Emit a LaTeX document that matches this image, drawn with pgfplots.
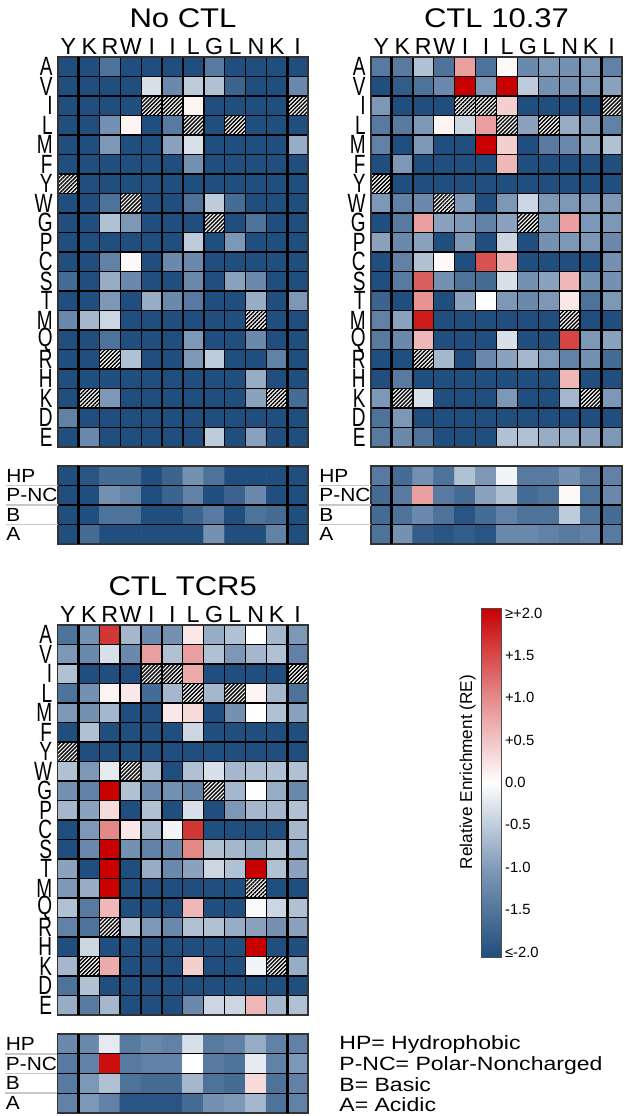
\documentclass[border=0pt]{standalone}
\usepackage{graphicx}
\usepackage{pgfplots}
\usepackage{pgfplotstable}
\pgfplotsset{compat=1.18}
\usepackage{fontspec}
\setmainfont{Liberation Sans}
\usetikzlibrary{patterns.meta}
\pgfplotsset{colormap={re}{rgb255(0cm)=(32,78,126); rgb255(1cm)=(125,152,183); rgb255(2cm)=(255,255,255); rgb255(3cm)=(228,135,135); rgb255(4cm)=(200,0,0)}}
\newcommand\RL[1]{\scalebox{0.95}[1.32]{#1}}
\newcommand\hcell[4]{\addplot[draw=none, pattern={Lines[angle=45,distance=1.4pt,line width=0.7pt]}] coordinates {(#1,#3) (#2,#3) (#2,#4) (#1,#4) (#1,#3)};}
\newcommand\hatches{%
\hcell{-0.5}{0.5}{5.5}{6.5}
\hcell{0.5}{1.5}{16.5}{17.5}
\hcell{1.5}{2.5}{14.5}{15.5}
\hcell{2.5}{3.5}{6.5}{7.5}
\hcell{3.5}{4.5}{1.5}{2.5}
\hcell{4.5}{5.5}{1.5}{2.5}
\hcell{5.5}{6.5}{2.5}{3.5}
\hcell{6.5}{7.5}{7.5}{8.5}
\hcell{7.5}{8.5}{2.5}{3.5}
\hcell{8.5}{9.5}{12.5}{13.5}
\hcell{9.5}{10.5}{16.5}{17.5}
\hcell{10.5}{11.5}{1.5}{2.5}}
\pgfplotsset{
 hmbase/.style={scale only axis, anchor=north west, enlargelimits=false, xmin=-0.5, xmax=11.5, y dir=reverse, axis on top,
   colormap name=re, point meta min=-2, point meta max=2, major tick length=0pt, minor tick length=0pt,
   axis line style={black!80, line width=0.8pt},
   minor xtick={0.5,1.5,...,10.5}, xminorgrids=true, yminorgrids=true, minor grid style={black, line width=0.7pt},
   extra x ticks={0.5,10.5}, extra x tick labels={}, extra x tick style={grid=major, major grid style={black, line width=1.5pt}}},
 big/.style={hmbase, width=125pt, height=195pt, ymin=-0.5, ymax=19.5,
   minor ytick={0.5,1.5,...,18.5},
   xtick={0,...,11}, xticklabels={Y,K,R,W,I,I,L,G,L,N,K,I}, xticklabel pos=upper,
   xticklabel style={font=\fontsize{11.6}{11.6}\selectfont, anchor=base, inner sep=0pt, yshift=1.5pt},
   ytick={0,...,19}, yticklabels={\RL{A},\RL{V},\RL{I},\RL{L},\RL{M},\RL{F},\RL{Y},\RL{W},\RL{G},\RL{P},\RL{C},\RL{S},\RL{T},\RL{M},\RL{Q},\RL{R},\RL{H},\RL{K},\RL{D},\RL{E}},
   yticklabel style={font=\fontsize{10}{10}\selectfont, anchor=east, inner sep=0pt, xshift=-2.5pt},
   title style={font=\fontsize{13.5}{13.5}\selectfont, at={(0.5,1)}, anchor=base, yshift=8.8pt}},
 small/.style={hmbase, width=125pt, height=39pt, ymin=-0.5, ymax=3.5, xtick=\empty,
   minor ytick={0.5,1.5,2.5}, ytick pos=left,
   ytick={0,1,2,3}, yticklabels={\scalebox{1.1}[1]{HP},\scalebox{1.1}[1]{P-NC},\scalebox{1.1}[1]{B},\scalebox{1.1}[1]{A}},
   yticklabel style={font=\fontsize{9.5}{9.5}\selectfont, anchor=west, inner sep=0pt, xshift=-26pt},
   extra y ticks={0.5,1.5,2.5}, extra y tick labels={},
   extra y tick style={major tick length=26pt, tick align=outside, tick style={black!22, line width=0.8pt}}},
 hm/.style={matrix plot*, mesh/cols=12, point meta=explicit}
}

% ---------------- No CTL ----------------
\pgfplotstableread[row sep=\\]{v\\
-2\\ -2\\ -1.5\\ -2\\ -2\\ -2\\ -2\\ -1.4\\ -2\\ -2\\ -2\\ -2\\
-2\\ -2\\ -2\\ -2\\ -0.3\\ -1.2\\ -0.5\\ -0.6\\ -1.7\\ -2\\ -2\\ -1.2\\
-2\\ -2\\ -2\\ -2\\ 0\\ 0\\ 0.1\\ -2\\ -2\\ -2\\ -2\\ 0\\
-2\\ -2\\ -1.1\\ 0.1\\ -2\\ -1.4\\ 0\\ -2\\ 0\\ -2\\ -2\\ -2\\
-2\\ -2\\ -1.0\\ -2\\ -2\\ -0.9\\ -0.3\\ -2\\ -2\\ -2\\ -2\\ -0.8\\
-2\\ -2\\ -2\\ -2\\ -2\\ -2\\ -1.1\\ -2\\ -2\\ -2\\ -2\\ -2\\
0\\ -2\\ -2\\ -2\\ -2\\ -2\\ -2\\ -2\\ -2\\ -2\\ -2\\ -2\\
-2\\ -2\\ -1.5\\ 0\\ -2\\ -2\\ -1.5\\ -0.5\\ -1.6\\ -2\\ -2\\ -2\\
-2\\ -2\\ -0.6\\ -1.0\\ -2\\ -2\\ -2\\ 0\\ -2\\ -1.5\\ -2\\ -2\\
-2\\ -2\\ -2\\ -2\\ -2\\ -2\\ -0.5\\ -2\\ -1.0\\ -2\\ -2\\ -2\\
-2\\ -2\\ -1.3\\ 0.05\\ -2\\ -1.2\\ -1.2\\ -2\\ -2\\ -2\\ -2\\ -2\\
-1.6\\ -2\\ -0.8\\ -1.2\\ -2\\ -2\\ -1.2\\ -2\\ -0.9\\ -1.2\\ -2\\ -2\\
-2\\ -2\\ -1.0\\ -2\\ -0.8\\ -1.2\\ -1.4\\ -2\\ -2\\ -0.8\\ -2\\ -1.0\\
-1.2\\ -0.7\\ -0.4\\ -2\\ -2\\ -2\\ -2\\ -2\\ -2\\ 0\\ -2\\ -2\\
-2\\ -2\\ -1.5\\ -2\\ -2\\ -2\\ -1.0\\ -2\\ -2\\ -1.2\\ -2\\ -2\\
-2\\ -2\\ 0\\ -0.6\\ -2\\ -2\\ -1.0\\ -0.5\\ -2\\ -2\\ -1.3\\ -2\\
-2\\ -2\\ -2\\ -2\\ -2\\ -2\\ -2\\ -2\\ -2\\ -0.8\\ -2\\ -2\\
-2\\ 0\\ -1.0\\ -2\\ -2\\ -2\\ -2\\ -2\\ -2\\ -0.9\\ 0\\ -1.6\\
-1.3\\ -2\\ -2\\ -2\\ -2\\ -2\\ -2\\ -2\\ -2\\ -2\\ -2\\ -2\\
-2\\ -1.2\\ -2\\ -2\\ -2\\ -2\\ -2\\ -0.5\\ -2\\ -0.9\\ -2\\ -2\\
}\tabNoBig
\pgfplotstableread[row sep=\\]{v\\
-2\\ -1.9\\ -1.6\\ -1.6\\ -2\\ -1.7\\ -1.1\\ -1.5\\ -2\\ -2\\ -2\\ -2\\
-2\\ -2\\ -1.1\\ -1.3\\ -2\\ -1.7\\ -1.3\\ -2\\ -1.7\\ -1.2\\ -2\\ -2\\
-2\\ -2\\ -1.5\\ -1.5\\ -2\\ -2\\ -1.7\\ -1.4\\ -2\\ -1.5\\ -1.6\\ -2\\
-2\\ -1.6\\ -2\\ -2\\ -2\\ -2\\ -2\\ -1.1\\ -2\\ -2\\ -1.3\\ -2\\
}\tabNoSmall
% ---------------- CTL 10.37 ----------------
\pgfplotstableread[row sep=\\]{v\\
-1.4\\ -1.4\\ -0.6\\ -1.5\\ 0.8\\ -1.5\\ 0.05\\ -1.2\\ -1.0\\ -1.1\\ -1.0\\ -1.3\\
-2\\ -1.8\\ -1.5\\ -1.2\\ 2\\ -1.0\\ 2\\ -0.5\\ -1.1\\ -1.1\\ -1.0\\ -0.9\\
-1.0\\ -2\\ -2\\ -2\\ 0\\ 0\\ 0.4\\ -2\\ -2\\ -2\\ -2\\ 0\\
-1.4\\ -1.4\\ -1.0\\ 0.1\\ -0.4\\ 0.8\\ 0\\ -0.9\\ 0\\ -0.8\\ -1.0\\ -1.3\\
-1.3\\ -2\\ -1.0\\ -2\\ -2\\ 2\\ 0.4\\ -2\\ -1.4\\ -1.2\\ -0.9\\ -0.6\\
-2\\ -1.0\\ -2\\ -2\\ -2\\ -2\\ 0.6\\ -2\\ -2\\ -2\\ -2\\ -2\\
0\\ -2\\ -2\\ -2\\ -2\\ -2\\ -2\\ -2\\ -2\\ -2\\ -2\\ -2\\
-1.0\\ -1.3\\ -1.2\\ 0\\ -1.0\\ -2\\ -1.0\\ -0.4\\ -1.0\\ -1.0\\ -1.0\\ -1.0\\
-2\\ -1.4\\ 0.8\\ -0.9\\ -1.0\\ -1.3\\ -0.9\\ 0\\ -1.0\\ 0.8\\ -1.0\\ -1.0\\
-0.9\\ -1.2\\ -0.9\\ -2\\ -1.0\\ -2\\ -0.4\\ -2\\ -1.1\\ -1.0\\ -1.0\\ -1.2\\
-2\\ -1.3\\ -0.6\\ 0.05\\ -2\\ 1.4\\ 0.6\\ -2\\ -2\\ -2\\ -2\\ -1.1\\
-2\\ -1.4\\ 1.3\\ -1.1\\ -1.5\\ -1.6\\ -0.3\\ -1.1\\ -0.9\\ 0.6\\ -1.1\\ -1.1\\
-1.7\\ -2\\ 0.9\\ -2\\ -0.9\\ 0.0\\ -1.0\\ -1.2\\ -1.0\\ 0.2\\ -1.5\\ -1.0\\
-1.3\\ -0.9\\ 1.8\\ -2\\ -2\\ -2\\ -2\\ -2\\ -2\\ 0\\ -2\\ -2\\
-1.4\\ -1.2\\ 0.6\\ -2\\ -2\\ -2\\ -0.3\\ -2\\ -2\\ 1.5\\ -1.0\\ -0.9\\
-2\\ -2\\ 0\\ -0.7\\ -2\\ -1.2\\ -0.9\\ -0.7\\ -1.0\\ -1.3\\ -1.1\\ -1.6\\
-2\\ -1.4\\ -2\\ -2\\ -2\\ -2\\ -2\\ -2\\ -2\\ 0.6\\ -2\\ -2\\
-1.0\\ 0\\ -0.3\\ -2\\ -2\\ -2\\ -1.0\\ -2\\ -2\\ -0.7\\ 0\\ -1.0\\
-1.5\\ -1.0\\ -2\\ -2\\ -2\\ -2\\ -2\\ -2\\ -2\\ -2\\ -2\\ -2\\
-1.4\\ -1.2\\ -1.5\\ -2\\ -2\\ -2\\ -0.6\\ -0.6\\ -0.8\\ -0.8\\ -0.9\\ -1.0\\
}\tabTenBig
\pgfplotstableread[row sep=\\]{v\\
-1.4\\ -1.6\\ -1.1\\ -1.5\\ -0.6\\ -1.0\\ -0.1\\ -1.4\\ -1.4\\ -1.1\\ -1.4\\ -1.3\\
-1.6\\ -1.4\\ 0.8\\ -1.4\\ -1.6\\ -0.9\\ -0.6\\ -1.6\\ -1.5\\ 0.05\\ -1.5\\ -1.2\\
-1.6\\ -1.5\\ -1.2\\ -1.5\\ -1.9\\ -1.6\\ -1.3\\ -1.5\\ -1.5\\ -0.5\\ -1.5\\ -1.6\\
-1.5\\ -1.1\\ -1.8\\ -1.9\\ -1.8\\ -1.9\\ -1.2\\ -1.2\\ -1.3\\ -1.4\\ -1.3\\ -1.4\\
}\tabTenSmall
% ---------------- CTL TCR5 ----------------
\pgfplotstableread[row sep=\\]{v\\
-1.5\\ -1.1\\ 1.6\\ -0.7\\ -1.2\\ -1.1\\ 0.2\\ -0.8\\ -0.6\\ 0.0\\ -0.7\\ -1.0\\
-1.0\\ -1.2\\ -0.3\\ -1.2\\ 0.8\\ -0.6\\ 0.8\\ -0.6\\ -1.0\\ -0.7\\ -0.6\\ -1.3\\
-0.6\\ -2\\ -2\\ -2\\ 0\\ 0\\ 0.7\\ -2\\ -2\\ -2\\ -2\\ 0\\
-1.5\\ -1.1\\ 0.1\\ 0.2\\ -1.6\\ -0.7\\ 0\\ -0.7\\ 0\\ 0.1\\ -0.7\\ -1.5\\
-1.0\\ -1.1\\ -0.7\\ -2\\ -2\\ 0.2\\ 0.3\\ -2\\ -1.1\\ 0.0\\ -0.6\\ -0.9\\
-2\\ -0.6\\ -2\\ -2\\ -2\\ -2\\ -0.4\\ -2\\ -2\\ -2\\ -2\\ -2\\
0\\ -2\\ -2\\ -2\\ -2\\ -2\\ -2\\ -2\\ -2\\ -2\\ -2\\ -2\\
-0.6\\ -1.0\\ -0.2\\ 0\\ -0.6\\ -2\\ -0.6\\ -0.3\\ -0.7\\ -0.6\\ -0.6\\ -0.6\\
-1.1\\ -1.3\\ 2\\ -0.6\\ -1.2\\ -1.1\\ -1.3\\ 0\\ -0.7\\ 0.0\\ -0.8\\ -1.2\\
-0.7\\ -0.9\\ 0.3\\ -2\\ -0.6\\ -2\\ -0.3\\ -2\\ -1.0\\ -0.7\\ -0.7\\ -0.6\\
-2\\ -1.0\\ 1.0\\ 0.2\\ -0.7\\ -0.1\\ 1.6\\ -2\\ -2\\ -2\\ -2\\ -0.7\\
-2\\ -1.2\\ 2\\ -1.1\\ -1.3\\ -1.2\\ 1.0\\ -0.6\\ -0.7\\ -0.8\\ -0.6\\ -0.8\\
-0.9\\ -2\\ 2\\ -2\\ -0.8\\ -1.2\\ -0.9\\ -0.4\\ -0.6\\ 2\\ -0.6\\ -0.9\\
-1.0\\ -0.8\\ 2\\ -2\\ -2\\ -2\\ -2\\ -2\\ -2\\ 0\\ -2\\ -2\\
-0.6\\ -1.4\\ 0.6\\ -2\\ -2\\ -2\\ 0.6\\ -2\\ -2\\ -0.05\\ -0.4\\ -0.6\\
-1.3\\ -1.5\\ 0\\ -0.6\\ -1.0\\ -1.2\\ -0.6\\ -0.6\\ -0.8\\ -0.9\\ -1.1\\ -0.9\\
-2\\ -0.4\\ -2\\ -2\\ -2\\ -2\\ -2\\ -2\\ -2\\ 2\\ -2\\ -2\\
-0.7\\ 0\\ 0.7\\ -2\\ -2\\ -2\\ 0.4\\ -2\\ -2\\ -0.1\\ 0\\ -0.8\\
-1.5\\ -0.6\\ -2\\ -2\\ -2\\ -2\\ -2\\ -2\\ -2\\ -2\\ -2\\ -2\\
-0.8\\ -1.4\\ -0.7\\ -2\\ -2\\ -2\\ -1.2\\ -0.4\\ -0.4\\ 0.6\\ -0.7\\ -0.6\\
}\tabTcrBig
\pgfplotstableread[row sep=\\]{v\\
-1.2\\ -1.2\\ -0.2\\ -1.4\\ -1.2\\ -1.3\\ -0.3\\ -1.4\\ -1.3\\ -0.8\\ -1.3\\ -1.3\\
-1.4\\ -1.3\\ 1.9\\ -1.4\\ -1.3\\ -1.3\\ 0.0\\ -1.4\\ -1.5\\ -0.2\\ -1.3\\ -1.0\\
-1.4\\ -1.0\\ -0.6\\ -1.5\\ -1.6\\ -1.6\\ -0.7\\ -1.5\\ -1.6\\ 0.3\\ -1.5\\ -1.3\\
-1.3\\ -1.0\\ -1.3\\ -1.9\\ -1.9\\ -1.9\\ -1.6\\ -1.1\\ -1.0\\ -0.7\\ -1.5\\ -1.3\\
}\tabTcrSmall

\begin{document}
\begin{tikzpicture}
\path[use as bounding box] (0,0) rectangle (312.5pt,-558pt);

% No CTL
\begin{axis}[big, at={(29pt,-28.5pt)}, title={\scalebox{1.15}[1]{No CTL}}]
\addplot[hm] table[x index=0, y index=0, meta index=0, x expr={mod(\coordindex,12)}, y expr={floor((\coordindex+0.5)/12)}] {\tabNoBig};
\hatches
\end{axis}
\begin{axis}[small, at={(29pt,-233pt)}]
\addplot[hm] table[x index=0, y index=0, meta index=0, x expr={mod(\coordindex,12)}, y expr={floor((\coordindex+0.5)/12)}] {\tabNoSmall};
\end{axis}

% CTL 10.37
\begin{axis}[big, at={(185.5pt,-28.5pt)}, width=125.5pt, title={\scalebox{1.15}[1]{CTL 10.37}}]
\addplot[hm] table[x index=0, y index=0, meta index=0, x expr={mod(\coordindex,12)}, y expr={floor((\coordindex+0.5)/12)}] {\tabTenBig};
\hatches
\end{axis}
\begin{axis}[small, at={(185.5pt,-233pt)}, width=125.5pt]
\addplot[hm] table[x index=0, y index=0, meta index=0, x expr={mod(\coordindex,12)}, y expr={floor((\coordindex+0.5)/12)}] {\tabTenSmall};
\end{axis}

% CTL TCR5
\begin{axis}[big, at={(28.75pt,-312.5pt)}, width=125.25pt, title={\scalebox{1.15}[1]{CTL TCR5}}]
\addplot[hm] table[x index=0, y index=0, meta index=0, x expr={mod(\coordindex,12)}, y expr={floor((\coordindex+0.5)/12)}] {\tabTcrBig};
\hatches
\end{axis}
\begin{axis}[small, at={(28.75pt,-517pt)}, width=125.25pt, height=39.5pt]
\addplot[hm] table[x index=0, y index=0, meta index=0, x expr={mod(\coordindex,12)}, y expr={floor((\coordindex+0.5)/12)}] {\tabTcrSmall};
\end{axis}

% colour bar
\begin{axis}[at={(232pt,-304pt)}, anchor=north west, scale only axis, width=10pt, height=174.5pt,
  hide axis, xmin=0, xmax=1, ymin=0, ymax=1, colormap name=re,
  point meta min=-2.06, point meta max=2.06, colorbar,
  colorbar style={at={(parent axis.north west)}, anchor=north west, xshift=0pt, yshift=0pt, width=10pt, height=174.5pt, scale only axis,
    ytick={-2,-1.5,-1,-0.5,0,0.5,1,1.5,2},
    yticklabels={≤-2.0,-1.5,-1.0,-0.5,0.0,+0.5,+1.0,+1.5,≥+2.0},
    yticklabel pos=right, major tick length=0pt,
    yticklabel style={font=\fontsize{7.4}{7.4}\selectfont, anchor=west, inner sep=0pt, xshift=1.8pt},
    axis line style={black!70, line width=0.5pt},
    ylabel={Relative Enrichment (RE)},
    ylabel style={font=\fontsize{8.6}{8.6}\selectfont, at={(axis description cs:-0.25,0.53)}, anchor=south, inner sep=0pt}}]
\end{axis}

% legend text
\begin{scope}[every node/.style={anchor=base west, inner sep=0pt, font=\fontsize{9.6}{9.6}\selectfont}]
\node at (169.5pt,-524.75pt) {\scalebox{1.2}[1]{HP= Hydrophobic}};
\node at (169.5pt,-535pt) {\scalebox{1.2}[1]{P-NC= Polar-Noncharged}};
\node at (169.5pt,-545.5pt) {\scalebox{1.2}[1]{B= Basic}};
\node at (169.5pt,-555.5pt) {\scalebox{1.2}[1]{A= Acidic}};
\end{scope}
\end{tikzpicture}
\end{document}
